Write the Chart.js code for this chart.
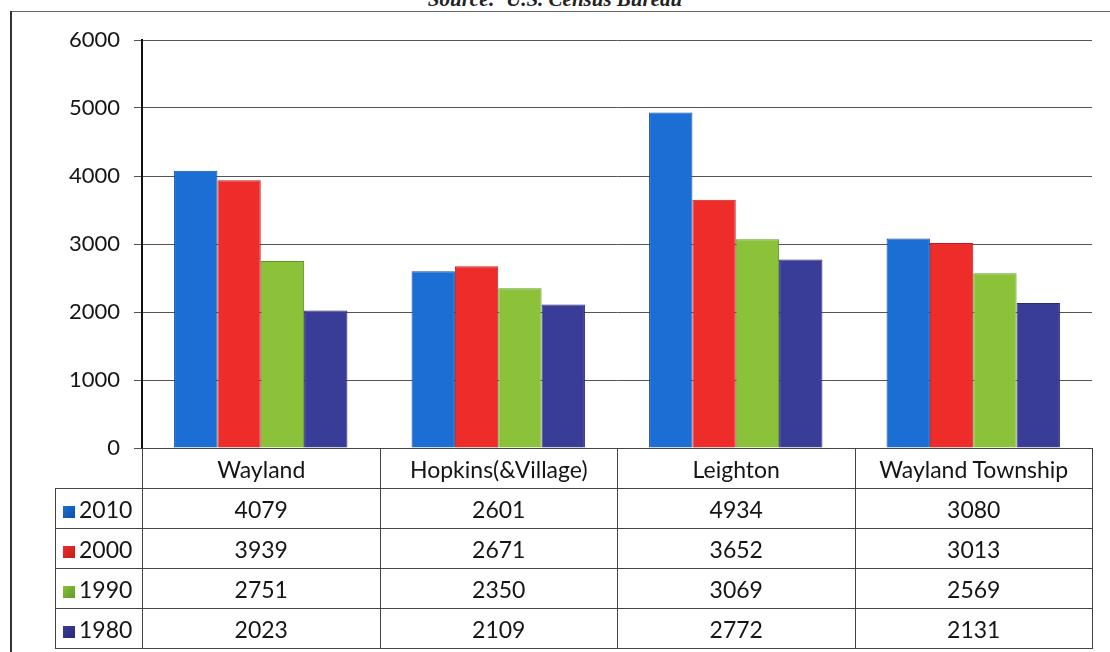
<!DOCTYPE html>
<html>
<head>
<meta charset="utf-8">
<script src="https://cdn.jsdelivr.net/npm/chart.js@4/dist/chart.umd.min.js"></script>
<style>
    body { margin: 0; background: #fff; }
    #wrap { position: relative; width: 1110px; height: 652px; overflow: hidden; font-family: Lato, 'Open Sans', sans-serif; }
    #chart { position: absolute; left: 0; top: 0; }
    #source { position: absolute; top: -13px; left: 0; width: 1110px; text-align: center; font-family: 'Liberation Serif', serif; font-style: italic; font-weight: bold; font-size: 21px; color: #222; }
    #frameTop { position: absolute; left: 10px; top: 11px; width: 1100px; border-top: 1.5px solid #666; }
    #frameLeft { position: absolute; left: 10px; top: 11px; height: 641px; border-left: 2px solid #333; }
    #dataTable { position: absolute; border-collapse: collapse; font-size: 23px; color: #151515; table-layout: fixed; }
    #dataTable td { border: 1.5px solid #444; text-align: center; height: 39px; padding: 0; }
    #dataTable td.empty { border-top: none; border-left: none; }
    #dataTable td.key { text-align: left; padding-left: 7px; }
    .swatch { display: inline-block; width: 12px; height: 12px; margin-right: 4px; vertical-align: 0px; }
</style>
</head>
<body>
<div id="wrap">
    <div id="source">Source:&nbsp; U.S. Census Bureau</div>
    <div id="frameTop"></div>
    <div id="frameLeft"></div>
    <canvas id="chart" width="1110" height="652"></canvas>
    <table id="dataTable"></table>
</div>
<script>
const places = ['Wayland', 'Hopkins(&Village)', 'Leighton', 'Wayland Township'];
const years = ['2010', '2000', '1990', '1980'];
const pop2010 = [4079, 2601, 4934, 3080];
const pop2000 = [3939, 2671, 3652, 3013];
const pop1990 = [2751, 2350, 3069, 2569];
const pop1980 = [2023, 2109, 2772, 2131];
const yTicks = [0, 1000, 2000, 3000, 4000, 5000, 6000];

const seriesValues = [pop2010, pop2000, pop1990, pop1980];
const fills = ['#1b6fd4', '#ee2d2a', '#8bc23a', '#3a3d98'];
const edges = ['#0f4fa8', '#c21d1d', '#5f9a24', '#262a78'];

const datasets = years.map((y, i) => ({
    label: y,
    data: seriesValues[i],
    backgroundColor: fills[i],
    borderColor: edges[i],
    borderWidth: 1,
    categoryPercentage: 0.73,
    barPercentage: 1.0
}));

// html data table lined up under the chart area
function buildTable(chart) {
    const area = chart.chartArea;
    const colW = (area.right - area.left) / places.length;
    const keyW = 87;
    const table = document.getElementById('dataTable');
    table.style.left = (area.left - keyW) + 'px';
    table.style.top = area.bottom + 'px';
    table.style.width = (keyW + colW * places.length) + 'px';

    let html = '<colgroup><col style="width:' + keyW + 'px">';
    places.forEach(() => { html += '<col style="width:' + colW + 'px">'; });
    html += '</colgroup><tr><td class="empty"></td>';
    places.forEach(p => { html += '<td>' + p.replace('&', '&amp;') + '</td>'; });
    html += '</tr>';
    years.forEach((y, i) => {
        html += '<tr><td class="key"><span class="swatch" style="background:linear-gradient(135deg,' + fills[i] + ',' + edges[i] + ')"></span>' + y + '</td>';
        seriesValues[i].forEach(v => { html += '<td>' + v + '</td>'; });
        html += '</tr>';
    });
    table.innerHTML = html;
}

const tablePlugin = {
    id: 'tablePlugin',
    afterRender(chart) {
        if (!chart.$tableDone) {
            chart.$tableDone = true;
            buildTable(chart);
        }
    }
};

new Chart(document.getElementById('chart'), {
    type: 'bar',
    data: { labels: places, datasets: datasets },
    plugins: [tablePlugin],
    options: {
        responsive: false,
        animation: false,
        layout: { padding: { left: 10, right: 18, top: 40, bottom: 196 } },
        plugins: {
            legend: { display: false },
            tooltip: { enabled: false },
            title: { display: false }
        },
        scales: {
            x: {
                grid: { display: false },
                border: { display: true, color: '#666', width: 1 },
                ticks: { display: false }
            },
            y: {
                min: 0,
                max: 6000,
                afterBuildTicks: s => { s.ticks = yTicks.map(v => ({ value: v })); },
                afterFit: s => { s.width = 132; },
                grid: { color: '#555', lineWidth: 1, tickLength: 8, drawTicks: true },
                border: { display: true, color: '#111', width: 2 },
                ticks: {
                    color: '#151515',
                    padding: 14,
                    callback: v => String(v),
                    font: { family: 'Lato, "Open Sans", sans-serif', size: 22 }
                }
            }
        }
    }
});
</script>
</body>
</html>
